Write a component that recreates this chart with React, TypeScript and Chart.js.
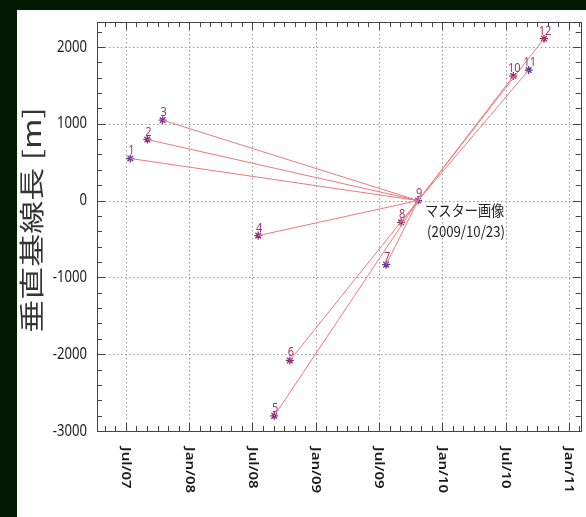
import React, { useEffect, useRef } from "react";
import { Chart, registerables } from "chart.js";

Chart.register(...registerables);

// ---- data ----
const sceneLabels = ["1", "2", "3", "4", "5", "6", "7", "8", "9", "10", "11", "12"];
const sceneDates = [
  "2007-07-14", "2007-09-02", "2007-10-16", "2008-07-18", "2008-09-03", "2008-10-18",
  "2009-07-22", "2009-09-04", "2009-10-23", "2010-07-24", "2010-09-07", "2010-10-21",
];
const perpBaselines = [548, 795, 1047, -456, -2803, -2082, -834, -283, 0, 1621, 1699, 2108];
const masterIndex = 8;
const masterText = ["マスター画像", "(2009/10/23)"];
const xTickLabels = ["Jul/07", "Jan/08", "Jul/08", "Jan/09", "Jul/09", "Jan/10", "Jul/10", "Jan/11"];
const yTickValues = [-3000, -2000, -1000, 0, 1000, 2000];
const yAxisTitle = "垂直基線長 [m]";

// ---- helpers ----
const MONTHS = ["Jan", "Feb", "Mar", "Apr", "May", "Jun", "Jul", "Aug", "Sep", "Oct", "Nov", "Dec"];
function toMonths(d: string): number {
  const [y, m, day] = d.split("-").map(Number);
  const dim = new Date(y, m, 0).getDate();
  return (y - 2007) * 12 + (m - 1) + (day - 1) / dim;
}
function labelToMonths(l: string): number {
  const [mon, yy] = l.split("/");
  return (2000 + Number(yy) - 2007) * 12 + MONTHS.indexOf(mon);
}

const points = sceneDates.map((d, i) => ({ x: toMonths(d), y: perpBaselines[i] }));
const master = points[masterIndex];
const xTicks = xTickLabels.map((l) => ({ v: labelToMonths(l), l }));

const pointColors = [
  "#6b3f9e", "#8a2a80", "#7a3592", "#8a2a80", "#8a2a80", "#8a2a80",
  "#5a3aa0", "#8a2a80", "#6b3f9e", "#9a2a6a", "#4a3aa8", "#9a2a6a",
];

const X_MIN = 3.26;
const X_MAX = 49.13;
const Y_MIN = -3000;
const Y_MAX = 2325;

const decorPlugin = {
  id: "decor",
  beforeDatasetsDraw(chart: any) {
    const { ctx, chartArea: a, scales } = chart;
    const x = scales.x, y = scales.y;
    ctx.save();
    ctx.strokeStyle = "#9a9a9a";
    ctx.lineWidth = 1;
    ctx.setLineDash([1.5, 2.5]);
    xTicks.forEach((t) => {
      const px = Math.round(x.getPixelForValue(t.v)) + 0.5;
      ctx.beginPath();
      ctx.moveTo(px, a.top);
      ctx.lineTo(px, a.bottom);
      ctx.stroke();
    });
    yTickValues.forEach((v) => {
      const py = Math.round(y.getPixelForValue(v)) + 0.5;
      ctx.beginPath();
      ctx.moveTo(a.left, py);
      ctx.lineTo(a.right, py);
      ctx.stroke();
    });
    ctx.restore();
  },
  afterDraw(chart: any) {
    const { ctx, chartArea: a, scales } = chart;
    const x = scales.x, y = scales.y;
    ctx.save();
    // frame
    ctx.strokeStyle = "#444";
    ctx.lineWidth = 1;
    ctx.setLineDash([]);
    ctx.strokeRect(Math.round(a.left) + 0.5, Math.round(a.top) + 0.5,
      Math.round(a.right - a.left), Math.round(a.bottom - a.top));
    // x ticks (monthly)
    ctx.beginPath();
    for (let m = Math.ceil(X_MIN); m <= Math.floor(X_MAX); m++) {
      const len = m % 6 === 0 ? 8 : 5;
      const px = Math.round(x.getPixelForValue(m)) + 0.5;
      ctx.moveTo(px, a.bottom);
      ctx.lineTo(px, a.bottom - len);
      ctx.moveTo(px, a.top);
      ctx.lineTo(px, a.top + len);
    }
    // y ticks
    for (let v = -3000; v <= 2200; v += 200) {
      const len = v % 1000 === 0 ? 8 : 5;
      const py = Math.round(y.getPixelForValue(v)) + 0.5;
      ctx.moveTo(a.left, py);
      ctx.lineTo(a.left + len, py);
      ctx.moveTo(a.right, py);
      ctx.lineTo(a.right - len, py);
    }
    ctx.stroke();

    // y tick labels
    ctx.fillStyle = "#1a1a1a";
    ctx.font = '16px "Noto Sans"';
    ctx.textAlign = "right";
    ctx.textBaseline = "middle";
    yTickValues.forEach((v) => {
      const py = y.getPixelForValue(v);
      ctx.save();
      ctx.translate(a.left - 10, py);
      ctx.scale(0.82, 1);
      ctx.fillText(String(v), 0, 0);
      ctx.restore();
    });

    // x tick labels rotated clockwise
    ctx.font = '600 15px "Noto Sans"';
    ctx.textAlign = "left";
    ctx.textBaseline = "middle";
    xTicks.forEach((t) => {
      const px = x.getPixelForValue(t.v);
      ctx.save();
      ctx.translate(px, a.bottom + 16);
      ctx.rotate(Math.PI / 2);
      ctx.scale(1, 0.85);
      ctx.fillText(t.l, 0, 0);
      ctx.restore();
    });

    // y axis title
    ctx.save();
    ctx.fillStyle = "#333";
    ctx.font = '33px "Noto Sans CJK JP"';
    ctx.textAlign = "center";
    ctx.textBaseline = "middle";
    ctx.translate(15, 210);
    ctx.rotate(-Math.PI / 2);
    ctx.scale(1, 0.75);
    ctx.fillText(yAxisTitle, 0, 0);
    ctx.restore();

    // scene number labels
    const meta = chart.getDatasetMeta(chart.data.datasets.length - 1);
    ctx.fillStyle = "#a8326e";
    ctx.font = '13px "Noto Sans"';
    ctx.textAlign = "center";
    ctx.textBaseline = "alphabetic";
    meta.data.forEach((el: any, i: number) => {
      ctx.save();
      ctx.translate(el.x + 1, el.y - 4);
      ctx.scale(0.85, 1);
      ctx.fillText(sceneLabels[i], 0, 0);
      ctx.restore();
    });

    // master annotation
    const mx = x.getPixelForValue(master.x);
    const my = y.getPixelForValue(master.y);
    ctx.fillStyle = "#222";
    ctx.font = '15px "Noto Sans CJK JP"';
    ctx.textAlign = "left";
    ctx.textBaseline = "middle";
    masterText.forEach((t, i) => {
      ctx.save();
      ctx.translate(mx + (i === 0 ? 7 : 9), my + 10 + i * 21);
      ctx.scale(0.88, 1);
      ctx.fillText(t, 0, 0);
      ctx.restore();
    });
    ctx.restore();
  },
};

export default function App() {
  const ref = useRef<HTMLCanvasElement | null>(null);
  useEffect(() => {
    if (!ref.current) return;
    const spokes = points
      .map((p, i) => ({ p, i }))
      .filter(({ i }) => i !== masterIndex)
      .map(({ p }) => ({
        type: "line" as const,
        data: [p, master],
        borderColor: "#ea7b7b",
        borderWidth: 1,
        pointRadius: 0,
        showLine: true,
        fill: false,
      }));
    const chart = new Chart(ref.current, {
      type: "scatter",
      data: {
        datasets: [
          ...spokes,
          {
            type: "scatter" as const,
            data: points,
            pointStyle: "star",
            pointRadius: 4,
            borderWidth: 1.3,
            borderColor: pointColors,
            backgroundColor: pointColors,
          },
        ] as any,
      },
      options: {
        animation: false,
        responsive: false,
        layout: { padding: { top: 12, right: 4, left: 0, bottom: 0 } },
        plugins: { legend: { display: false }, tooltip: { enabled: false } },
        scales: {
          x: {
            type: "linear",
            min: X_MIN,
            max: X_MAX,
            grid: { display: false },
            border: { display: false },
            ticks: { display: false },
            afterFit: (s: any) => { s.height = 86; },
          },
          y: {
            type: "linear",
            min: Y_MIN,
            max: Y_MAX,
            grid: { display: false },
            border: { display: false },
            ticks: { display: false },
            afterFit: (s: any) => { s.width = 80; },
          },
        },
      },
      plugins: [decorPlugin],
    });
    return () => chart.destroy();
  }, []);

  return (
    <div style={{ position: "fixed", left: 0, top: 0, width: 586, height: 517, background: "#011c03" }}>
      <div style={{ position: "absolute", left: 17, top: 10, width: 569, height: 507, background: "#ffffff" }}>
        <canvas ref={ref} width={569} height={507} style={{ display: "block", width: 569, height: 507 }} />
      </div>
    </div>
  );
}
